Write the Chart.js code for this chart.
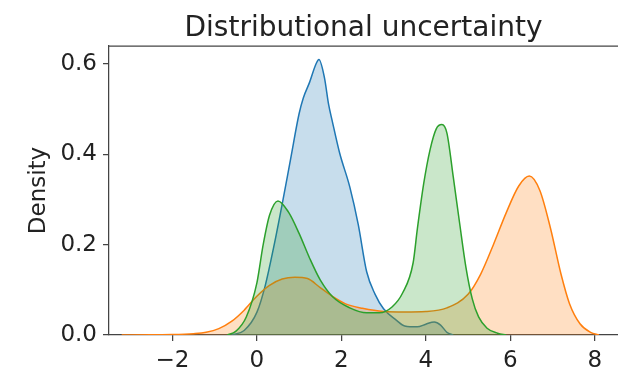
<!DOCTYPE html>
<html>
<head>
<meta charset="utf-8">
<script src="https://cdn.jsdelivr.net/npm/chart.js@4.4.1/dist/chart.umd.min.js"></script>
<style>
  html, body { margin: 0; padding: 0; background: #fff; overflow: hidden; }
  canvas { display: block; }
</style>
</head>
<body>
<canvas id="kdeChart" width="618" height="369"></canvas>
<script>
// values
const chartTitle = 'Distributional uncertainty';
const yLabel = 'Density';
const xTicks = [-2, 0, 2, 4, 6, 8];
const yTicks = [0.0, 0.2, 0.4, 0.6];

const blueX = [-0.6, -0.3, 0.0, 0.2, 0.4, 0.6, 0.8, 1.0, 1.1, 1.25, 1.4, 1.47, 1.6, 1.7, 1.78, 1.96, 2.2, 2.4, 2.6, 2.8, 3.0, 3.3, 3.5, 3.8, 4.0, 4.2, 4.35, 4.5, 4.65];
const blueY = [0.0, 0.01, 0.05, 0.11, 0.195, 0.29, 0.39, 0.49, 0.525, 0.56, 0.6, 0.61, 0.57, 0.51, 0.476, 0.403, 0.328, 0.245, 0.14, 0.09, 0.058, 0.033, 0.02, 0.018, 0.024, 0.029, 0.022, 0.006, 0.0];

const orangeX = [-3.2, -2.5, -2.0, -1.5, -1.2, -0.9, -0.6, -0.3, 0.0, 0.3, 0.6, 0.9, 1.2, 1.5, 1.8, 2.1, 2.5, 3.0, 3.5, 4.0, 4.5, 5.0, 5.3, 5.6, 5.9, 6.2, 6.45, 6.7, 6.95, 7.2, 7.4, 7.65, 7.9, 8.1];
const orangeY = [0.0, 0.0005, 0.001, 0.003, 0.006, 0.014, 0.03, 0.055, 0.086, 0.11, 0.124, 0.128, 0.125, 0.105, 0.085, 0.069, 0.059, 0.052, 0.051, 0.052, 0.06, 0.09, 0.135, 0.2, 0.27, 0.33, 0.352, 0.32, 0.237, 0.135, 0.07, 0.025, 0.006, 0.0];

const greenX = [-0.7, -0.5, -0.25, 0.0, 0.15, 0.3, 0.5, 0.75, 1.0, 1.25, 1.5, 1.8, 2.2, 2.6, 2.9, 3.2, 3.45, 3.7, 3.8, 3.95, 4.1, 4.25, 4.38, 4.5, 4.65, 4.8, 4.95, 5.1, 5.25, 5.45, 5.7, 5.9];
const greenY = [0.0, 0.008, 0.04, 0.115, 0.2, 0.265, 0.297, 0.272, 0.225, 0.17, 0.122, 0.084, 0.06, 0.049, 0.049, 0.062, 0.093, 0.16, 0.235, 0.335, 0.41, 0.457, 0.466, 0.447, 0.35, 0.248, 0.15, 0.08, 0.04, 0.015, 0.004, 0.0];

const textColor = '#222';
const spineColor = '#444';
const fontFamily = "'DejaVu Sans', sans-serif";

function toPoints(xs, ys) {
    return xs.map((x, i) => ({ x: x, y: ys[i] }));
}

function kdeDataset(label, xs, ys, line, fill, order) {
    return {
        label: label,
        data: toPoints(xs, ys),
        borderColor: line,
        backgroundColor: fill,
        borderWidth: 1.5,
        pointRadius: 0,
        fill: 'origin',
        cubicInterpolationMode: 'monotone',
        order: order
    };
}

// matplotlib-like frame: top spine and the title centred over the axes
const framePlugin = {
    id: 'frame',
    afterDraw(chart) {
        const { ctx, chartArea } = chart;
        ctx.save();
        ctx.strokeStyle = spineColor;
        ctx.lineWidth = 1.25;
        ctx.beginPath();
        ctx.moveTo(chartArea.left, chartArea.top);
        ctx.lineTo(chartArea.right, chartArea.top);
        ctx.stroke();

        ctx.fillStyle = textColor;
        ctx.font = '28px ' + fontFamily;
        ctx.textAlign = 'center';
        ctx.textBaseline = 'alphabetic';
        ctx.fillText(chartTitle, (chartArea.left + chartArea.right) / 2, 36);
        ctx.restore();
    }
};

const ctx = document.getElementById('kdeChart').getContext('2d');
new Chart(ctx, {
    type: 'line',
    data: {
        datasets: [
            kdeDataset('blue', blueX, blueY, '#1f77b4', 'rgba(31, 119, 180, 0.25)', 3),
            kdeDataset('orange', orangeX, orangeY, '#ff7f0e', 'rgba(255, 127, 14, 0.25)', 2),
            kdeDataset('green', greenX, greenY, '#2ca02c', 'rgba(44, 160, 44, 0.25)', 1)
        ]
    },
    options: {
        responsive: false,
        animation: false,
        layout: { padding: { top: 46, left: 0, right: 0, bottom: 0 } },
        plugins: {
            legend: { display: false },
            tooltip: { enabled: false },
            title: { display: false }
        },
        scales: {
            x: {
                type: 'linear',
                min: -3.5,
                max: 8.55,
                afterBuildTicks: scale => { scale.ticks = xTicks.map(v => ({ value: v })); },
                afterFit: scale => { scale.height = 34; },
                grid: { drawOnChartArea: false, drawTicks: true, tickLength: 6, color: spineColor, lineWidth: 1.25 },
                border: { display: true, color: spineColor, width: 1.25 },
                ticks: {
                    color: textColor,
                    font: { family: fontFamily, size: 23 },
                    padding: 6,
                    maxRotation: 0,
                    callback: v => (v < 0 ? '\u2212' + Math.abs(v) : String(v))
                }
            },
            y: {
                min: 0,
                max: 0.64,
                afterBuildTicks: scale => { scale.ticks = yTicks.map(v => ({ value: v })); },
                afterFit: scale => { scale.width = 109; },
                grid: { drawOnChartArea: false, drawTicks: true, tickLength: 6, color: spineColor, lineWidth: 1.25 },
                border: { display: true, color: spineColor, width: 1.25 },
                title: {
                    display: true,
                    text: yLabel,
                    color: textColor,
                    font: { family: fontFamily, size: 23 },
                    padding: { top: 25, bottom: 0 }
                },
                ticks: {
                    color: textColor,
                    font: { family: fontFamily, size: 23 },
                    padding: 6,
                    callback: v => v.toFixed(1)
                }
            }
        }
    },
    plugins: [framePlugin]
});
</script>
</body>
</html>
